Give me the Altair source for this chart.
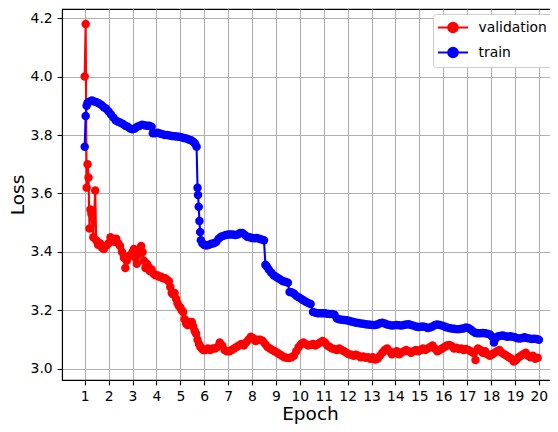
import altair as alt
import pandas as pd

# ---- data ----
val_epoch = [1.00, 1.04, 1.08, 1.12, 1.16, 1.20, 1.24, 1.28, 1.36, 1.44, 1.48, 1.56, 1.64, 1.72, 1.80,
             1.90, 2.00, 2.08, 2.16, 2.24, 2.32, 2.40, 2.48, 2.56, 2.64, 2.70, 2.76, 2.84, 2.92, 3.00,
             3.06, 3.12, 3.18, 3.24, 3.30, 3.36, 3.42, 3.48, 3.54, 3.60, 3.66, 3.72, 3.80, 3.88, 3.96,
             4.04, 4.12, 4.20, 4.28, 4.36, 4.44, 4.52, 4.58, 4.64, 4.70, 4.76, 4.82, 4.88, 4.94, 5.00,
             5.06, 5.12, 5.18, 5.24, 5.30, 5.36, 5.42, 5.48, 5.54, 5.60, 5.66, 5.72, 5.78, 5.84, 5.90,
             5.96, 6.05, 6.15, 6.25, 6.35, 6.45, 6.55, 6.65, 6.75, 6.85, 6.95, 7.05, 7.15, 7.25, 7.35,
             7.45, 7.55, 7.65, 7.75, 7.85, 7.95, 8.05, 8.15, 8.25, 8.35, 8.45, 8.55, 8.65, 8.75, 8.85,
             8.95, 9.05, 9.15, 9.25, 9.35, 9.45, 9.55, 9.65, 9.75, 9.85, 9.95, 10.05, 10.15, 10.25, 10.35,
             10.45, 10.55, 10.65, 10.75, 10.85, 10.95, 11.05, 11.15, 11.25, 11.35, 11.45, 11.55, 11.65, 11.75, 11.85,
             11.95, 12.05, 12.15, 12.25, 12.35, 12.45, 12.55, 12.65, 12.75, 12.85, 12.95, 13.05, 13.15, 13.25, 13.35,
             13.45, 13.55, 13.65, 13.75, 13.85, 13.95, 14.05, 14.15, 14.25, 14.35, 14.45, 14.55, 14.65, 14.75, 14.85,
             14.95, 15.05, 15.15, 15.25, 15.35, 15.45, 15.55, 15.65, 15.75, 15.85, 15.95, 16.05, 16.15, 16.25, 16.35,
             16.45, 16.55, 16.65, 16.75, 16.85, 16.95, 17.05, 17.15, 17.25, 17.35, 17.45, 17.55, 17.65, 17.75, 17.85,
             17.95, 18.05, 18.15, 18.25, 18.35, 18.45, 18.55, 18.65, 18.75, 18.85, 18.95, 19.05, 19.15, 19.25, 19.35,
             19.45, 19.55, 19.65, 19.75, 19.85, 19.95]
val_loss = [4.00, 4.18, 3.62, 3.70, 3.655, 3.48, 3.545, 3.53, 3.45, 3.61, 3.44, 3.425, 3.43, 3.415, 3.41,
            3.42, 3.43, 3.45, 3.44, 3.435, 3.445, 3.43, 3.42, 3.40, 3.38, 3.345, 3.37, 3.385, 3.39, 3.40,
            3.41, 3.38, 3.36, 3.39, 3.40, 3.42, 3.40, 3.37, 3.345, 3.36, 3.35, 3.335, 3.34, 3.325, 3.32,
            3.32, 3.315, 3.315, 3.31, 3.31, 3.305, 3.30, 3.28, 3.26, 3.255, 3.26, 3.24, 3.225, 3.215, 3.21,
            3.20, 3.195, 3.17, 3.155, 3.15, 3.16, 3.155, 3.16, 3.145, 3.13, 3.12, 3.10, 3.085, 3.075, 3.07,
            3.065, 3.065, 3.07, 3.065, 3.07, 3.07, 3.075, 3.09, 3.08, 3.065, 3.06, 3.06, 3.065, 3.07, 3.075,
            3.08, 3.085, 3.08, 3.09, 3.10, 3.11, 3.105, 3.095, 3.10, 3.10, 3.095, 3.085, 3.075, 3.07, 3.065,
            3.06, 3.055, 3.05, 3.045, 3.04, 3.038, 3.037, 3.04, 3.045, 3.06, 3.075, 3.085, 3.09, 3.085, 3.08,
            3.082, 3.085, 3.08, 3.085, 3.09, 3.095, 3.09, 3.08, 3.075, 3.07, 3.068, 3.065, 3.07, 3.065, 3.06,
            3.055, 3.05, 3.048, 3.045, 3.048, 3.045, 3.04, 3.042, 3.038, 3.04, 3.035, 3.04, 3.032, 3.035, 3.045,
            3.055, 3.065, 3.07, 3.06, 3.05, 3.055, 3.06, 3.05, 3.055, 3.06, 3.065, 3.06, 3.055, 3.06, 3.065,
            3.06, 3.065, 3.07, 3.065, 3.07, 3.075, 3.08, 3.07, 3.06, 3.065, 3.07, 3.075, 3.08, 3.082, 3.078,
            3.07, 3.072, 3.068, 3.07, 3.065, 3.068, 3.065, 3.06, 3.055, 3.03, 3.07, 3.065, 3.055, 3.06, 3.05,
            3.045, 3.05, 3.055, 3.06, 3.065, 3.055, 3.05, 3.045, 3.04, 3.035, 3.025, 3.03, 3.04, 3.045, 3.05,
            3.055, 3.045, 3.04, 3.045, 3.035, 3.038]

train_epoch = [1.00, 1.04, 1.08, 1.12, 1.20, 1.30, 1.40, 1.50, 1.60, 1.70, 1.80, 1.90, 2.00, 2.10, 2.20,
               2.30, 2.40, 2.50, 2.60, 2.70, 2.80, 2.90, 3.00, 3.10, 3.20, 3.30, 3.40, 3.50, 3.60, 3.70,
               3.80, 3.85, 3.95, 4.05, 4.15, 4.25, 4.35, 4.45, 4.55, 4.65, 4.75, 4.85, 4.95, 5.05, 5.15,
               5.25, 5.35, 5.45, 5.55, 5.62, 5.68, 5.72, 5.74, 5.77, 5.80, 5.83, 5.86, 5.92, 6.00, 6.10,
               6.20, 6.30, 6.40, 6.50, 6.60, 6.70, 6.80, 6.90, 7.00, 7.10, 7.20, 7.30, 7.40, 7.50, 7.60,
               7.70, 7.80, 7.90, 8.00, 8.10, 8.20, 8.30, 8.40, 8.50, 8.56, 8.62, 8.70, 8.80, 8.90, 9.00,
               9.10, 9.20, 9.30, 9.40, 9.50, 9.57, 9.65, 9.75, 9.85, 9.95, 10.05, 10.15, 10.25, 10.35, 10.45,
               10.55, 10.65, 10.75, 10.85, 10.95, 11.05, 11.15, 11.25, 11.35, 11.45, 11.55, 11.65, 11.75, 11.85, 11.95,
               12.05, 12.15, 12.25, 12.35, 12.45, 12.55, 12.65, 12.75, 12.85, 12.95, 13.05, 13.15, 13.25, 13.35, 13.45,
               13.55, 13.65, 13.75, 13.85, 13.95, 14.05, 14.15, 14.25, 14.35, 14.45, 14.55, 14.65, 14.75, 14.85, 14.95,
               15.05, 15.15, 15.25, 15.35, 15.45, 15.55, 15.65, 15.75, 15.85, 15.95, 16.05, 16.15, 16.25, 16.35, 16.45,
               16.55, 16.65, 16.75, 16.85, 16.95, 17.05, 17.15, 17.25, 17.35, 17.45, 17.55, 17.65, 17.75, 17.85, 17.95,
               18.05, 18.12, 18.20, 18.30, 18.40, 18.50, 18.60, 18.70, 18.80, 18.90, 19.00, 19.10, 19.20, 19.30, 19.40,
               19.50, 19.60, 19.70, 19.80, 19.90, 20.00]
train_loss = [3.76, 3.865, 3.90, 3.91, 3.915, 3.918, 3.915, 3.912, 3.908, 3.903, 3.895, 3.89, 3.88, 3.87, 3.86,
              3.85, 3.845, 3.842, 3.838, 3.832, 3.828, 3.822, 3.82, 3.822, 3.828, 3.832, 3.835, 3.833, 3.832, 3.832,
              3.828, 3.806, 3.806, 3.808, 3.805, 3.803, 3.80, 3.80, 3.798, 3.797, 3.796, 3.795, 3.794, 3.792, 3.79,
              3.788, 3.785, 3.782, 3.776, 3.77, 3.76, 3.62, 3.595, 3.555, 3.506, 3.468, 3.44, 3.43, 3.424, 3.422,
              3.425, 3.428, 3.43, 3.434, 3.445, 3.452, 3.455, 3.458, 3.46, 3.46, 3.46, 3.458, 3.46, 3.465, 3.465,
              3.458, 3.452, 3.45, 3.448, 3.447, 3.448, 3.445, 3.443, 3.44, 3.356, 3.35, 3.34, 3.33, 3.32, 3.315,
              3.31, 3.305, 3.30, 3.298, 3.295, 3.263, 3.262, 3.258, 3.25, 3.245, 3.24, 3.235, 3.23, 3.225, 3.222,
              3.195, 3.192, 3.19, 3.19, 3.19, 3.19, 3.189, 3.188, 3.188, 3.185, 3.172, 3.17, 3.168, 3.167, 3.166,
              3.165, 3.162, 3.16, 3.158, 3.157, 3.155, 3.154, 3.153, 3.152, 3.151, 3.15, 3.15, 3.152, 3.156, 3.158,
              3.155, 3.152, 3.15, 3.148, 3.149, 3.15, 3.149, 3.148, 3.15, 3.152, 3.153, 3.15, 3.148, 3.145, 3.143,
              3.144, 3.145, 3.143, 3.14, 3.142, 3.145, 3.15, 3.152, 3.15, 3.148, 3.145, 3.142, 3.14, 3.138, 3.137,
              3.136, 3.136, 3.137, 3.138, 3.142, 3.14, 3.135, 3.128, 3.123, 3.122, 3.122, 3.123, 3.122, 3.12, 3.118,
              3.11, 3.09, 3.105, 3.112, 3.113, 3.114, 3.112, 3.11, 3.112, 3.11, 3.108, 3.105, 3.104, 3.106, 3.108,
              3.106, 3.104, 3.102, 3.103, 3.102, 3.10]

series_names = ["validation", "train"]
series_colors = ["#ff0000", "#0000ff"]
x_ticks = list(range(1, 21))
y_ticks = [3.0, 3.2, 3.4, 3.6, 3.8, 4.0, 4.2]

rows = []
for e, l in zip(val_epoch, val_loss):
    rows.append({"Epoch": e, "Loss": l, "series": "validation"})
for e, l in zip(train_epoch, train_loss):
    rows.append({"Epoch": e, "Loss": l, "series": "train"})
df = pd.DataFrame(rows)

# line + marker legend glyph (unit box -1..1)
legend_symbol = "M-2,0L2,0M0.64,0A0.64,0.64,0,1,1,-0.64,0A0.64,0.64,0,1,1,0.64,0Z"

FONT = "DejaVu Sans"

chart = alt.Chart(df).mark_line(
    strokeWidth=2.1,
    point=alt.OverlayMarkDef(filled=True, size=72, opacity=1),
).encode(
    x=alt.X("Epoch:Q",
            scale=alt.Scale(domain=[0.05, 20.8], nice=False, zero=False),
            axis=alt.Axis(values=x_ticks, format="d", title="Epoch")),
    y=alt.Y("Loss:Q",
            scale=alt.Scale(domain=[2.962, 4.231], nice=False, zero=False),
            axis=alt.Axis(values=y_ticks, format=".1f", title="Loss")),
    color=alt.Color("series:N",
                    scale=alt.Scale(domain=series_names, range=series_colors),
                    legend=alt.Legend(title=None, orient="none", legendX=371, legendY=5,
                                      symbolType=legend_symbol, symbolSize=225,
                                      symbolStrokeWidth=2, symbolOffset=6.5,
                                      labelOffset=17, padding=5, rowPadding=6,
                                      fillColor="white", strokeColor="#cccccc",
                                      cornerRadius=3, labelFontSize=13.9,
                                      labelFont=FONT, labelColor="black")),
).properties(
    width=496, height=371,
    autosize=alt.AutoSizeParams(type="none"),
    padding={"left": 54, "top": 1, "right": -8, "bottom": 44},
).configure_view(
    stroke="black", strokeWidth=1.1
).configure_axis(
    grid=True, gridColor="#b0b0b0", gridWidth=1.1,
    domainColor="black", domainWidth=1.1,
    tickColor="black", tickWidth=1.1, tickSize=4.9,
    labelPadding=4.9, labelFont=FONT, labelFontSize=13.9, labelColor="black",
    titleFont=FONT, titleFontSize=18.5, titleFontWeight="normal", titleColor="black",
).configure_axisY(
    titlePadding=2.5
).configure_axisX(
    titlePadding=1
)

chart.save("out.html", embed_options={"renderer": "svg", "actions": False})
